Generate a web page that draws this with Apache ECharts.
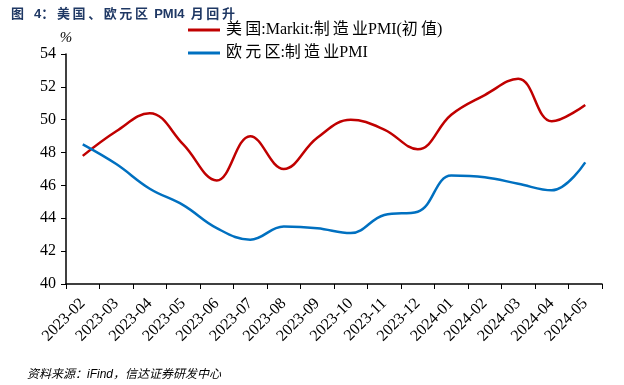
<!DOCTYPE html>
<html><head><meta charset="utf-8">
<script src="https://cdn.jsdelivr.net/npm/echarts@6/dist/echarts.min.js"></script>
<style>html,body{margin:0;padding:0;background:#fff}#c{width:624px;height:385px}</style>
</head><body><div id="c"></div>
<script>
var categories = ['2023-02','2023-03','2023-04','2023-05','2023-06','2023-07','2023-08','2023-09','2023-10','2023-11','2023-12','2024-01','2024-02','2024-03','2024-04','2024-05'];
var usPMI = [47.8,49.3,50.4,48.5,46.3,49.0,47.0,48.9,50.0,49.4,48.2,50.3,51.5,52.5,49.9,50.9];
var euPMI = [48.5,47.3,45.8,44.8,43.4,42.7,43.5,43.4,43.1,44.2,44.4,46.6,46.5,46.1,45.7,47.4];
var yTicks = {min:40, max:54, interval:2};
var seriesNames = ['美\u2009国:Markit:制\u2009造\u2009业PMI(初\u2009值)','欧\u2009元\u2009区:制\u2009造\u2009业PMI'];

var serif = '"Liberation Serif","Times New Roman","Noto Sans CJK SC",serif';
var chart = echarts.init(document.getElementById('c'));
chart.setOption({
  animation:false,
  backgroundColor:'#fff',
  title:{
    text:'图\u2002 4：\u2009美\u2009国\u2009、\u2009欧\u2009元\u2009区\u2009 PMI4\u2009 月\u2009回\u2009升',
    left:6, top:3,
    textStyle:{fontSize:13, fontWeight:'bold', color:'#1F3864', fontFamily:'"Liberation Sans","Noto Sans CJK SC",sans-serif'}
  },
  legend:{
    orient:'vertical', left:188, top:22, padding:0, itemWidth:32, itemHeight:3, itemGap:7,
    icon:'rect',
    textStyle:{fontSize:16, color:'#000', fontFamily:serif, padding:[0,0,0,1]},
    data:seriesNames
  },
  graphic:[{
    type:'text', left:27, top:369,
    style:{text:'资料来源：iFind，信达证券研发中心', fontSize:12, fontStyle:'italic', fill:'#000', fontFamily:'"Liberation Sans","Noto Sans CJK SC",sans-serif'}
  }],
  grid:{left:66, right:22, top:54, bottom:101, containLabel:false},
  xAxis:{
    type:'category', data:categories, boundaryGap:true,
    axisLine:{lineStyle:{color:'#000', width:1.5}},
    axisTick:{show:true, length:5, lineStyle:{color:'#000'}, alignWithLabel:false},
    axisLabel:{rotate:45, fontSize:16, color:'#000', fontFamily:serif, margin:17, interval:0}
  },
  yAxis:{
    type:'value', min:yTicks.min, max:yTicks.max, interval:yTicks.interval,
    name:'%', nameLocation:'end', nameGap:8,
    nameTextStyle:{fontSize:15, fontStyle:'italic', color:'#000', fontFamily:serif, align:'center'},
    axisLine:{show:true, lineStyle:{color:'#000', width:1.5}},
    axisTick:{show:true, length:5, lineStyle:{color:'#000'}},
    splitLine:{show:false},
    axisLabel:{fontSize:16, color:'#000', fontFamily:serif, margin:10}
  },
  series:[
    {name:seriesNames[0], type:'line', data:usPMI, smooth:0.4, showSymbol:false, symbol:'none',
     lineStyle:{color:'#C00000', width:2.5}, itemStyle:{color:'#C00000'}},
    {name:seriesNames[1], type:'line', data:euPMI, smooth:0.4, showSymbol:false, symbol:'none',
     lineStyle:{color:'#0070C0', width:2.5}, itemStyle:{color:'#0070C0'}}
  ]
});
</script></body></html>
